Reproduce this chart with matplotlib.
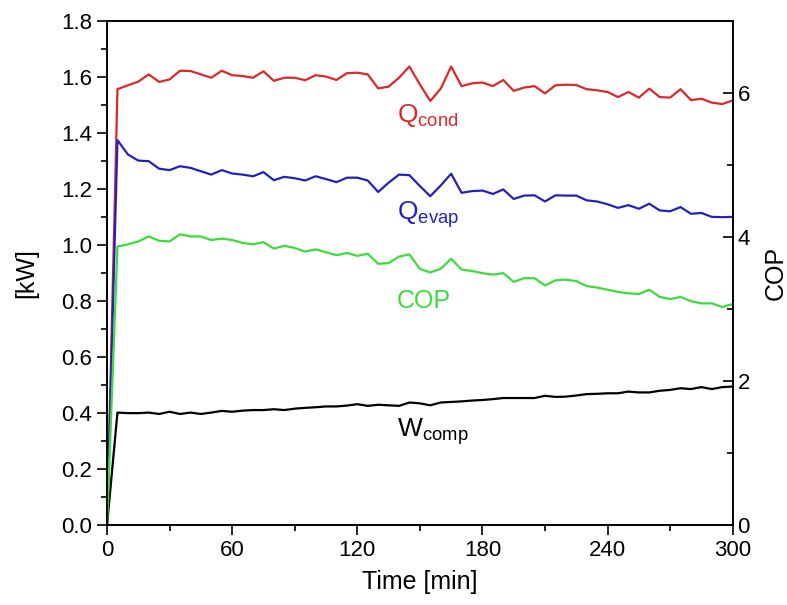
import matplotlib
matplotlib.use("Agg")
import matplotlib.pyplot as plt
from matplotlib.ticker import MultipleLocator

plt.rcParams['font.family'] = ['Liberation Sans', 'DejaVu Sans']
plt.rcParams['mathtext.fontset'] = 'custom'
plt.rcParams['mathtext.rm'] = 'Liberation Sans'

time_min = list(range(0, 301, 5))

q_cond = [0.0, 1.557, 1.571, 1.584, 1.610, 1.583, 1.592, 1.623, 1.622, 1.610, 1.598,
          1.623, 1.607, 1.604, 1.598, 1.621, 1.587, 1.598, 1.598, 1.589, 1.607,
          1.602, 1.590, 1.614, 1.616, 1.610, 1.560, 1.566, 1.598, 1.638, 1.574,
          1.515, 1.559, 1.638, 1.568, 1.578, 1.581, 1.568, 1.590, 1.551, 1.563,
          1.568, 1.542, 1.571, 1.573, 1.572, 1.557, 1.553, 1.547, 1.529, 1.547,
          1.527, 1.559, 1.529, 1.527, 1.557, 1.518, 1.523, 1.509, 1.504, 1.517]

q_evap = [0.0, 1.375, 1.324, 1.302, 1.300, 1.273, 1.268, 1.282, 1.276, 1.264, 1.252,
          1.268, 1.256, 1.252, 1.246, 1.261, 1.232, 1.244, 1.239, 1.231, 1.246,
          1.236, 1.225, 1.241, 1.241, 1.231, 1.190, 1.223, 1.252, 1.250, 1.211,
          1.175, 1.213, 1.255, 1.187, 1.193, 1.195, 1.183, 1.199, 1.165, 1.177,
          1.178, 1.156, 1.178, 1.177, 1.177, 1.160, 1.156, 1.146, 1.133, 1.143,
          1.130, 1.148, 1.124, 1.121, 1.136, 1.112, 1.115, 1.101, 1.100, 1.101]

cop = [0.0, 3.87, 3.90, 3.94, 4.01, 3.95, 3.94, 4.04, 4.01, 4.01, 3.96,
       3.98, 3.96, 3.92, 3.90, 3.93, 3.84, 3.88, 3.85, 3.80, 3.83,
       3.79, 3.75, 3.78, 3.74, 3.77, 3.63, 3.64, 3.73, 3.76, 3.56,
       3.51, 3.56, 3.70, 3.55, 3.53, 3.50, 3.48, 3.50, 3.38, 3.43,
       3.43, 3.33, 3.40, 3.41, 3.39, 3.32, 3.30, 3.27, 3.24, 3.22,
       3.21, 3.27, 3.17, 3.14, 3.17, 3.11, 3.08, 3.08, 3.03, 3.07]

w_comp = [0.0, 0.402, 0.400, 0.400, 0.402, 0.397, 0.405, 0.397, 0.402, 0.397, 0.402,
          0.408, 0.405, 0.409, 0.411, 0.411, 0.414, 0.411, 0.416, 0.419, 0.421,
          0.424, 0.424, 0.427, 0.432, 0.426, 0.430, 0.428, 0.426, 0.438, 0.435,
          0.428, 0.438, 0.440, 0.442, 0.445, 0.447, 0.450, 0.454, 0.454, 0.454,
          0.454, 0.462, 0.458, 0.459, 0.463, 0.468, 0.469, 0.471, 0.471, 0.477,
          0.474, 0.474, 0.480, 0.483, 0.489, 0.486, 0.493, 0.486, 0.493, 0.495]

RED = '#dc2828'
BLUE = '#2222bb'
GREEN = '#3ddc3d'
BLACK = '#000000'

fig = plt.figure(figsize=(7.87, 6.05), dpi=100)
ax = fig.add_axes([0.136, 0.132, 0.795, 0.833])
ax2 = ax.twinx()

ax.plot(time_min, q_cond, color=RED, lw=1.6)
ax.plot(time_min, q_evap, color=BLUE, lw=1.6)
ax2.plot(time_min, cop, color=GREEN, lw=1.6)
ax.plot(time_min, w_comp, color=BLACK, lw=1.6)

ax.set_xlim(0, 300)
ax.set_ylim(0, 1.8)
ax2.set_ylim(0, 7)

ax.xaxis.set_major_locator(MultipleLocator(60))
ax.xaxis.set_minor_locator(MultipleLocator(30))
ax.yaxis.set_major_locator(MultipleLocator(0.2))
ax.yaxis.set_minor_locator(MultipleLocator(0.1))
ax.yaxis.set_major_formatter(plt.FormatStrFormatter('%.1f'))
ax2.yaxis.set_major_locator(MultipleLocator(2))
ax2.yaxis.set_minor_locator(MultipleLocator(1))

ax.tick_params(axis='both', which='major', direction='out', length=7.5, width=1.2, labelsize=16)
ax.tick_params(axis='both', which='minor', direction='out', length=4.3, width=1.2)
ax.tick_params(axis='y', right=False)
ax2.tick_params(axis='y', which='major', direction='in', length=7.5, width=1.2, labelsize=16)
ax2.tick_params(axis='y', which='minor', direction='in', length=4.3, width=1.2)

for a in (ax, ax2):
    for s in a.spines.values():
        s.set_linewidth(1.2)

ax.set_xlabel('Time [min]', fontsize=18, labelpad=6)
ax.set_ylabel('[kW]', fontsize=18, labelpad=16)
ax2.set_ylabel('COP', fontsize=18, labelpad=10)

ax.text(139, 1.44, r'$\mathregular{Q_{cond}}$', color=RED, fontsize=19, ha='left', va='baseline')
ax.text(139, 1.09, r'$\mathregular{Q_{evap}}$', color=BLUE, fontsize=19, ha='left', va='baseline')
ax.text(139, 0.777, 'COP', color=GREEN, fontsize=18, ha='left', va='baseline')
ax.text(139, 0.315, r'$\mathregular{W_{comp}}$', color=BLACK, fontsize=19, ha='left', va='baseline')

fig.savefig('out.png', dpi=100)
